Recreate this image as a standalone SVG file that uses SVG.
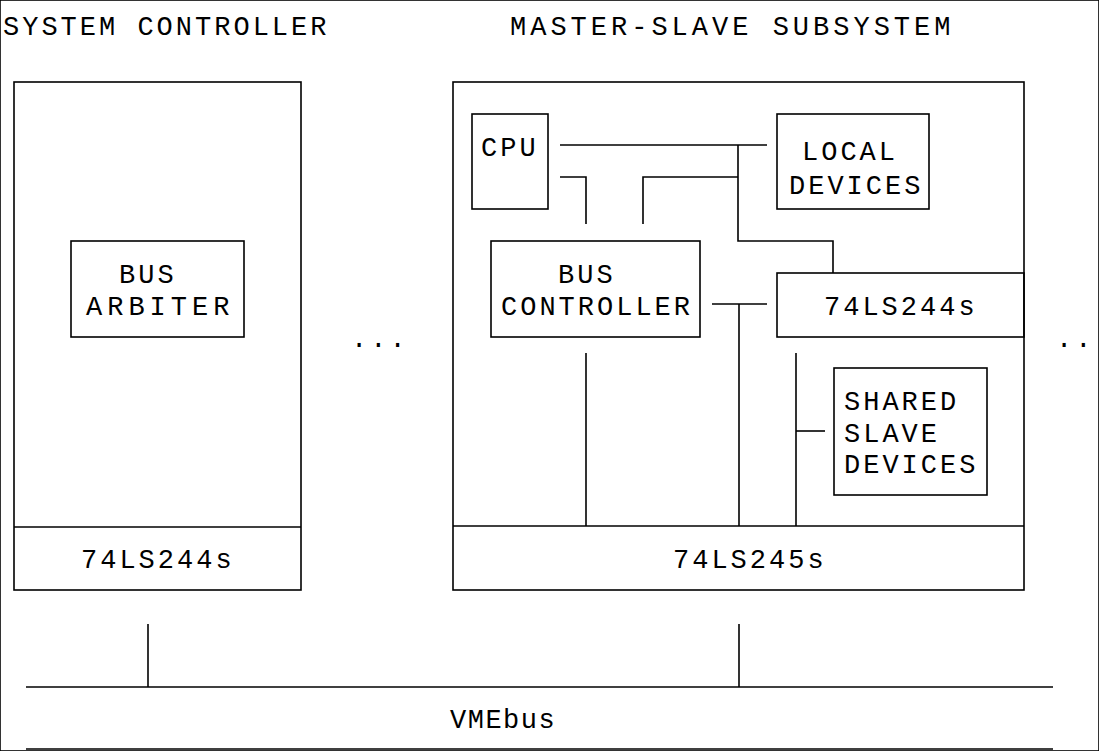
<svg xmlns="http://www.w3.org/2000/svg" width="1099" height="751" viewBox="0 0 1099 751">
<style>
rect,line,polyline{fill:none;stroke:#000;stroke-width:1.6}
text{font-family:"Liberation Mono","DejaVu Sans Mono",monospace;font-size:27px;letter-spacing:3px;fill:#000}
</style>
<rect width="1099" height="751" fill="#fff" stroke="none"/>
<g id="titles">
<text x="3" y="35">SYSTEM CONTROLLER</text>
<text x="510" y="35" style="letter-spacing:4px">MASTER-SLAVE SUBSYSTEM</text>
</g>
<g id="system-controller">
<rect x="14" y="82" width="287" height="508"/>
<line x1="14" y1="527" x2="301" y2="527"/>
<text x="81" y="568">74LS244s</text>
</g>
<g id="bus-arbiter">
<rect x="71" y="241" width="173" height="96"/>
<text x="119" y="283">BUS</text>
<text x="86" y="315" style="letter-spacing:5px">ARBITER</text>
</g>
<g id="master-slave-subsystem">
<rect x="453" y="82" width="571" height="508"/>
<line x1="453" y1="526" x2="1024" y2="526"/>
<text x="673" y="568">74LS245s</text>
</g>
<g id="cpu">
<rect x="472" y="114" width="76" height="95"/>
<text x="481" y="156">CPU</text>
</g>
<g id="local-devices">
<rect x="777" y="114" width="152" height="95"/>
<text x="802" y="160">LOCAL</text>
<text x="789" y="194">DEVICES</text>
</g>
<g id="bus-controller">
<rect x="491" y="241" width="209" height="96"/>
<text x="558" y="283">BUS</text>
<text x="501" y="315">CONTROLLER</text>
</g>
<g id="buffer-74ls244s">
<rect x="777" y="273" width="247" height="64"/>
<text x="824" y="315">74LS244s</text>
</g>
<g id="shared-slave-devices">
<rect x="834" y="368" width="153" height="127"/>
<text x="844" y="410">SHARED</text>
<text x="844" y="442">SLAVE</text>
<text x="844" y="473">DEVICES</text>
</g>
<g id="vmebus">
<line x1="26" y1="687" x2="1053" y2="687"/>
<line x1="26" y1="749" x2="1053" y2="749"/>
<text x="450" y="728" style="letter-spacing:1.5px">VMEbus</text>
</g>
<g id="ellipses">
<text x="351" y="347">...</text>
<text x="1056" y="347">..</text>
</g>
<g id="connectors">
<line x1="560" y1="145" x2="767" y2="145"/>
<polyline points="738,145 738,241 833,241 833,273"/>
<polyline points="560,177 586,177 586,224"/>
<polyline points="643,224 643,177 738,177"/>
<line x1="712" y1="304" x2="767" y2="304"/>
<line x1="739" y1="304" x2="739" y2="526"/>
<line x1="586" y1="353" x2="586" y2="526"/>
<line x1="796" y1="353" x2="796" y2="526"/>
<line x1="796" y1="431" x2="825" y2="431"/>
<line x1="148" y1="624" x2="148" y2="687"/>
<line x1="739" y1="624" x2="739" y2="687"/>
</g>
</svg>
